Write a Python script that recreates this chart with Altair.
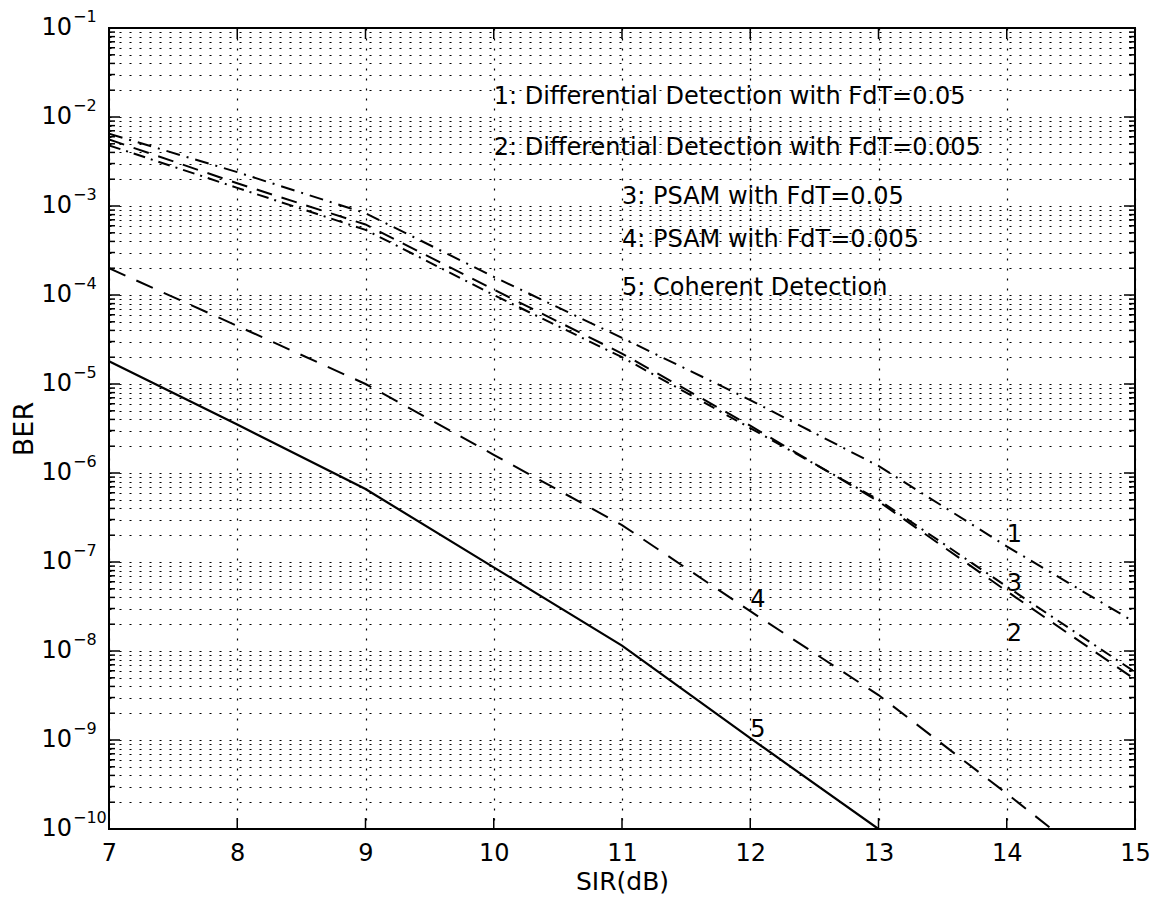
import altair as alt
import pandas as pd

# ---------------- data ----------------
sir = [7, 8, 9, 10, 11, 12, 13, 14, 15]
ber1 = [6.5e-3, 2.4e-3, 8.3e-4, 1.6e-4, 3.3e-5, 6.6e-6, 1.2e-6, 1.5e-7, 2.1e-8]
ber2 = [5.6e-3, 1.8e-3, 6.2e-4, 1.15e-4, 2.2e-5, 3.4e-6, 4.8e-7, 4.7e-8, 4.8e-9]
ber3 = [4.8e-3, 1.6e-3, 5.4e-4, 1.0e-4, 2.0e-5, 3.2e-6, 5.0e-7, 5.3e-8, 5.8e-9]

sir4 = [7, 8, 9, 10, 11, 12, 13, 14, 14.35]
ber4 = [2.0e-4, 4.5e-5, 1.0e-5, 1.6e-6, 2.6e-7, 2.8e-8, 3.2e-9, 2.5e-10, 1.0e-10]

sir5 = [7, 8, 9, 10, 11, 12, 13]
ber5 = [1.8e-5, 3.5e-6, 6.6e-7, 8.7e-8, 1.15e-8, 1.05e-9, 1.0e-10]

legend_text = [
    "1: Differential Detection with FdT=0.05",
    "2: Differential Detection with FdT=0.005",
    "3: PSAM with FdT=0.05",
    "4: PSAM with FdT=0.005",
    "5: Coherent Detection",
]
legend_x = [10, 10, 11, 11, 11]
legend_y = [1.66e-2, 4.5e-3, 1.26e-3, 4.2e-4, 1.2e-4]

curve_label = ["1", "3", "2", "4", "5"]
curve_label_x = [14, 14, 14, 12, 12]
curve_label_y = [2.0e-7, 5.7e-8, 1.55e-8, 3.7e-8, 1.3e-9]

x_ticks = [7, 8, 9, 10, 11, 12, 13, 14, 15]
y_major_exp = [-10, -9, -8, -7, -6, -5, -4, -3, -2, -1]
y_minor_mult = [2, 3, 4, 5, 6, 7, 8, 9]

# ---------------- derived tables ----------------
y_major = [10.0 ** e for e in y_major_exp]
y_minor = [m * 10.0 ** e for e in y_major_exp[:-1] for m in y_minor_mult]
y_grid = sorted(y_major + y_minor)

FONT = "DejaVu Sans"
W, H = 1026, 801

xs = alt.Scale(domain=[7, 15], nice=False, zero=False)
ys = alt.Scale(type="log", domain=[1e-10, 1e-1], nice=False)

XAXIS = alt.Axis(
    values=x_ticks, grid=True, gridDash=[2, 8], gridColor="black",
    gridWidth=1.2, gridOpacity=1, domain=False, ticks=False, tickSize=0,
    labelFontSize=24, labelFont=FONT, labelColor="black", labelPadding=12,
    labelFlush=False, format="d",
    title="SIR(dB)", titleFont=FONT, titleFontSize=25,
    titleFontWeight="normal", titleColor="black",
    titleY=60, titleBaseline="alphabetic", titleAlign="center",
)
YAXIS = alt.Axis(
    values=y_grid, grid=True, gridDash=[2, 8], gridColor="black",
    gridWidth=1.2, gridOpacity=1, domain=False, ticks=False, tickSize=0,
    labels=False,
    title="BER", titleFont=FONT, titleFontSize=27,
    titleFontWeight="normal", titleColor="black",
    titleAngle=-90, titleX=-77, titleY=H / 2, titleAlign="center",
    titleBaseline="alphabetic",
)


def X(field):
    return alt.X(field, scale=xs, axis=XAXIS, title="SIR(dB)")


def Y(field):
    return alt.Y(field, scale=ys, axis=YAXIS, title="BER")


def curve(xv, yv, dash, width=2.0):
    df = pd.DataFrame({"x": xv, "y": yv})
    mk = dict(color="black", strokeWidth=width, clip=True)
    if dash:
        mk["strokeDash"] = dash
    return alt.Chart(df).mark_line(**mk).encode(x=X("x:Q"), y=Y("y:Q"))


c1 = curve(sir, ber1, [14, 7, 2, 7])
c2 = curve(sir, ber2, [16, 10])
c3 = curve(sir, ber3, [12, 6, 2, 6])
c4 = curve(sir4, ber4, [18, 12])
c5 = curve(sir5, ber5, None, width=2.2)

# inward ticks (MATLAB box style)
ymaj_df = pd.DataFrame({"v": y_major})
ymin_df = pd.DataFrame({"v": y_minor})
xt_df = pd.DataFrame({"v": x_ticks})


def yticks(df, x0, x1):
    return alt.Chart(df).mark_rule(color="black", strokeWidth=1.5).encode(
        y=Y("v:Q"), x=alt.value(x0), x2=alt.value(x1)
    )


def xticks(df, y0, y1):
    return alt.Chart(df).mark_rule(color="black", strokeWidth=1.5).encode(
        x=X("v:Q"), y=alt.value(y0), y2=alt.value(y1)
    )


ticks = [
    yticks(ymaj_df, 0, 11), yticks(ymaj_df, W, W - 11),
    yticks(ymin_df, 0, 6), yticks(ymin_df, W, W - 6),
    xticks(xt_df, H, H - 11), xticks(xt_df, 0, 11),
]

# y tick labels 10^k
ylab_df = pd.DataFrame({
    "v": y_major,
    "base": ["10"] * len(y_major),
    "exp": ["\u2212" + str(-e) for e in y_major_exp],
})
ylab_base = alt.Chart(ylab_df).mark_text(
    align="right", baseline="middle", fontSize=24, font=FONT, color="black"
).encode(y=Y("v:Q"), x=alt.value(-37), text="base:N")
ylab_exp = alt.Chart(ylab_df).mark_text(
    align="left", baseline="middle", fontSize=16, font=FONT, color="black", dy=-11
).encode(y=Y("v:Q"), x=alt.value(-36), text="exp:N")

# legend texts
leg_df = pd.DataFrame({"x": legend_x, "y": legend_y, "t": legend_text})
legend = alt.Chart(leg_df).mark_text(
    align="left", baseline="middle", fontSize=24, font=FONT, color="black"
).encode(x=X("x:Q"), y=Y("y:Q"), text="t:N")

lab_df = pd.DataFrame({"x": curve_label_x, "y": curve_label_y, "t": curve_label})
labels = alt.Chart(lab_df).mark_text(
    align="left", baseline="middle", fontSize=24, font=FONT, color="black"
).encode(x=X("x:Q"), y=Y("y:Q"), text="t:N")

chart = alt.layer(
    c1, c2, c3, c4, c5, *ticks, ylab_base, ylab_exp, legend, labels
).properties(
    width=W, height=H,
    autosize=alt.AutoSizeParams(type="none"),
    padding={"left": 109, "top": 28, "right": 23, "bottom": 71},
    background="white",
).configure_view(stroke="black", strokeWidth=2)

chart.save("out.html", embed_options={"renderer": "svg", "actions": False})
